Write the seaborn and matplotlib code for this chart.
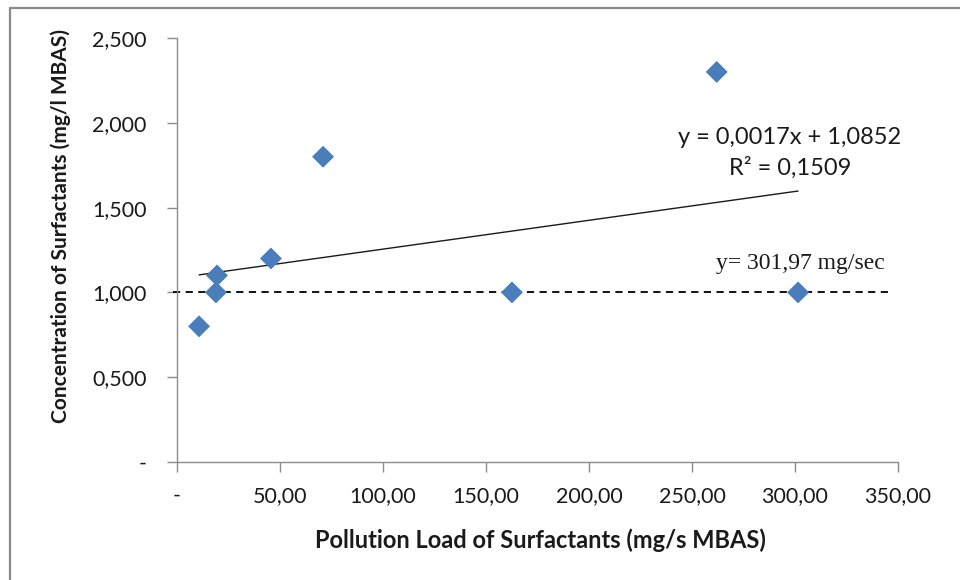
import matplotlib
matplotlib.use("Agg")
import matplotlib.pyplot as plt
from matplotlib.lines import Line2D
import numpy as np
import pandas as pd
import seaborn as sns

# Pollution load (mg/s MBAS) and concentration (mg/l MBAS) of surfactants
load_mg_s = [10.7, 18.9, 19.4, 45.6, 70.9, 162.6, 262.0, 301.5]
conc_mg_l = [0.80, 1.00, 1.10, 1.20, 1.80, 1.00, 2.30, 1.00]

# Linear trend as reported on the chart
slope = 0.0017
intercept = 1.0852
r_squared = 0.1509

# Reference level
ref_level = 1.0
x_ticks = [0, 50, 100, 150, 200, 250, 300, 350]
x_tick_labels = ["-", "50,00", "100,00", "150,00", "200,00", "250,00", "300,00", "350,00"]
y_ticks = [0, 0.5, 1.0, 1.5, 2.0, 2.5]
y_tick_labels = ["-", "0,500", "1,000", "1,500", "2,000", "2,500"]

df = pd.DataFrame({"load": load_mg_s, "conc": conc_mg_l})

sns.set_theme(style="white")
plt.rcParams["font.family"] = ["Lato", "DejaVu Sans"]

fig = plt.figure(figsize=(9.6, 5.8), dpi=100)
ax = fig.add_axes([0.1844, 0.2034, 0.751, 0.7311])

blue = "#4a7ebb"
sns.scatterplot(data=df, x="load", y="conc", marker="D", s=125,
                color=blue, edgecolor="none", ax=ax, zorder=3)

# Trend line across the observed load range
xs = np.array([min(load_mg_s), max(load_mg_s)])
ax.plot(xs, slope * xs + intercept, color="#1a1a1a", lw=1.0, zorder=2)

# Dashed reference line
ax.plot([-2, 346], [ref_level, ref_level], color="black", lw=1.3,
        ls=(0, (4, 3)), zorder=2, clip_on=False)

ax.set_xlim(0, 350)
ax.set_ylim(0, 2.5)
ax.set_xticks(x_ticks)
ax.set_xticklabels(x_tick_labels)
ax.set_yticks(y_ticks)
ax.set_yticklabels(y_tick_labels)
ax.set_xlabel("")
ax.set_ylabel("")

for side in ["top", "right"]:
    ax.spines[side].set_visible(False)
for side in ["left", "bottom"]:
    ax.spines[side].set_color("#8c8c8c")
    ax.spines[side].set_linewidth(1.0)

ax.tick_params(axis="both", which="major", direction="out", length=7,
               width=1.0, color="#8c8c8c", labelsize=15.5, labelcolor="#1a1a1a",
               left=True, bottom=True)
ax.tick_params(axis="x", pad=10)
ax.tick_params(axis="y", pad=15)

# Annotations
fmt = lambda v: str(v).replace(".", ",")
ax.text(297.5, 1.916, f"y = {fmt(slope)}x + {fmt(intercept)}",
        ha="center", va="center", fontsize=17, color="#1a1a1a")
ax.text(297.5, 1.733, f"R² = {fmt(r_squared)}",
        ha="center", va="center", fontsize=17, color="#1a1a1a")
ax.text(302.4, 1.173, "y= 301,97 mg/sec", ha="center", va="center",
        fontsize=17, color="#1a1a1a", family=["Liberation Serif", "DejaVu Serif"])

# Axis titles
fig.text(0.5625, 0.069, "Pollution Load of Surfactants (mg/s MBAS)", ha="center",
         va="center", fontsize=17, fontweight="bold", color="#1a1a1a")
fig.text(0.063, 0.61, "Concentration of Surfactants (mg/l MBAS)", ha="center",
         va="center", rotation=90, fontsize=15, fontweight="bold", color="#1a1a1a")

# Frame around the chart area
fig.add_artist(Line2D([9.5 / 960, 1.0], [1 - 8 / 580, 1 - 8 / 580],
                      transform=fig.transFigure, color="#8a8a8a", lw=1.6))
fig.add_artist(Line2D([9.5 / 960, 9.5 / 960], [0.0, 1 - 8 / 580],
                      transform=fig.transFigure, color="#8a8a8a", lw=1.6))

fig.savefig("out.png", dpi=100)
